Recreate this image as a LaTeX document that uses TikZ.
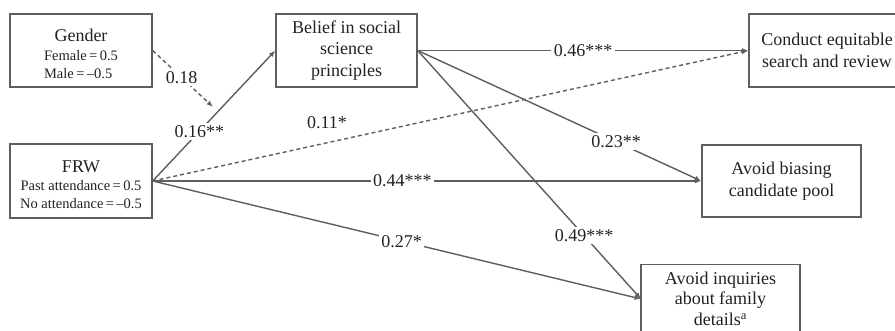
\documentclass[tikz,border=0pt]{standalone}
\usepackage{fontspec}
\setmainfont{Liberation Serif}
\usetikzlibrary{arrows.meta}
\definecolor{ln}{HTML}{5E5E5E}
\definecolor{tx}{HTML}{222222}
\tikzset{
  box/.style={draw=ln, line width=1.4pt, inner sep=0pt, align=center, text=tx,
    font=\fontsize{18}{21.5}\selectfont},
  path/.style={draw=ln, line width=1.4pt, -{Latex[length=6.5pt,width=5pt]}},
  dpath/.style={path, dash pattern=on 4pt off 3pt},
  lab/.style={fill=white, inner sep=2.5pt, text=tx, font=\fontsize{18}{22}\selectfont},
  nlab/.style={inner sep=1pt, text=tx, font=\fontsize{18}{22}\selectfont}
}
\newcommand{\smallfs}{\fontsize{14.5}{18}\selectfont}
\begin{document}
\begin{tikzpicture}[x=1pt,y=-1pt]
\useasboundingbox (0,0) rectangle (895,331);
\clip (0,0) rectangle (895,331);
\fill[white] (0,0) rectangle (895,331);
% boxes
\node[box, minimum width=142pt, minimum height=73pt] (gender) at (81,50.5)
  {\rule{0pt}{24pt}Gender\\[-3pt] {\smallfs\begin{tabular}[t]{@{}l@{}}Female\,=\,0.5\\Male\,=\,–0.5\end{tabular}}};
\node[box, minimum width=142pt, minimum height=74pt] (frw) at (81,181)
  {\rule{0pt}{24pt}FRW\\[-3pt] {\smallfs\begin{tabular}[t]{@{}c@{}}Past attendance\,=\,0.5\\No attendance\,=\,–0.5\end{tabular}}};
\node[box, minimum width=141pt, minimum height=73pt] (belief) at (346.5,50.5)
  {Belief in social\\science\\principles};
\node[box, minimum width=156pt, minimum height=73pt] (cond) at (827,50.5)
  {Conduct equitable\\search and review};
\node[box, minimum width=159pt, minimum height=72pt] (bias) at (781.5,181)
  {Avoid biasing\\candidate pool};
\node[box, minimum width=159pt, minimum height=68pt, anchor=north,
      font=\fontsize{18}{20.5}\selectfont] (inq) at (720.5,264)
  {Avoid inquiries\\about family\\details\textsuperscript{a}};
% anchor points
\coordinate (mod) at (213,107);
\coordinate (inqin) at (641,299);
% connectors
\draw[dpath] (gender.east) -- node[lab, pos=0.48]{0.18} (mod);
\draw[path] (frw.east) -- node[lab, pos=0.38]{0.16**} (belief.west);
\draw[dpath] (frw.east) -- (cond.west);
\node[nlab] (l11) at (327,123) {0.11*};
\draw[path] (frw.east) -- node[lab, pos=0.455]{0.44***} (bias.west);
\draw[path] (frw.east) -- node[lab, pos=0.51]{0.27*} (inqin);
\draw[path] (belief.east) -- node[lab, pos=0.5]{0.46***} (cond.west);
\draw[path] (belief.east) -- node[lab, pos=0.7]{0.23**} (bias.west);
\draw[path] (belief.east) -- node[lab, pos=0.745]{0.49***} (inqin);
\end{tikzpicture}
\end{document}
